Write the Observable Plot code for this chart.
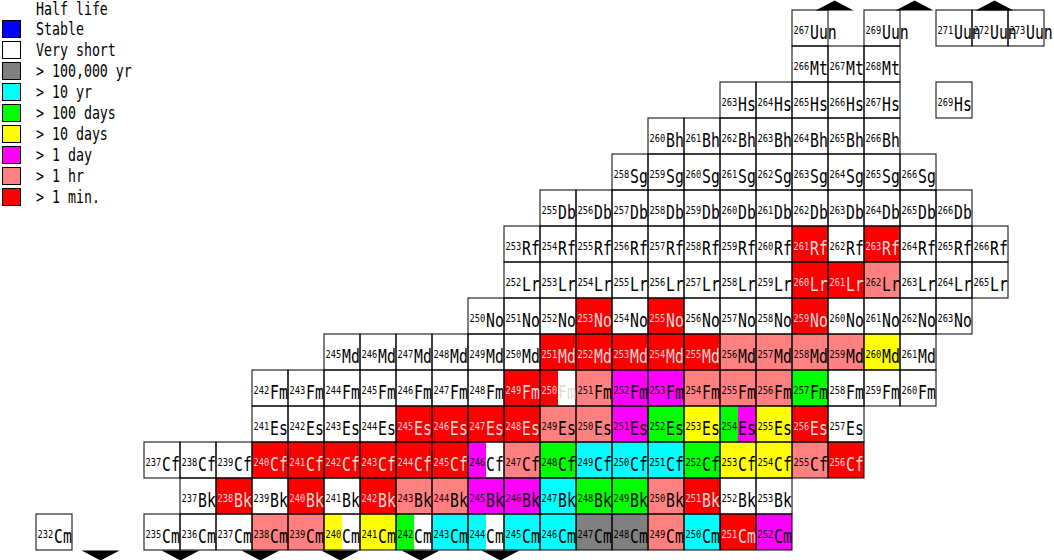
<!DOCTYPE html>
<html>
<head>
<meta charset="utf-8">
<script src="https://cdn.jsdelivr.net/npm/d3@7"></script>
<script src="https://cdn.jsdelivr.net/npm/@observablehq/plot@0.6"></script>
<style>
html, body { margin: 0; padding: 0; background: #fff; }
#wrap { position: relative; width: 1054px; height: 560px; overflow: hidden; }
#legend { position: absolute; left: 0; top: 0; font-family: "DejaVu Sans Mono", monospace; font-size: 17px; color: #000; }
#legend .sw { position: absolute; left: 2px; width: 19px; height: 18px; box-sizing: border-box; border: 1px solid #000; }
#legend .lt { position: absolute; left: 36px; line-height: 18px; height: 18px; white-space: pre; transform: scaleX(0.78); transform-origin: 0 0; }
</style>
</head>
<body>
<div id="wrap"><div id="chart"></div><div id="legend"></div></div>
<script>
// ---- Legend / half-life classes ----
const legendTitle = "Half life";
const classCodes  = ["B", "W", "G", "C", "L", "Y", "M", "S", "R"];
const classLabels = ["Stable", "Very short", "> 100,000 yr", "> 10 yr", "> 100 days", "> 10 days", "> 1 day", "> 1 hr", "> 1 min."];
const classColors = ["#0000ff", "#ffffff", "#808080", "#00ffff", "#00ff00", "#ffff00", "#ff00ff", "#ff8080", "#ff0000"];

// ---- Elements (rows) ----
const elementSymbols = ["Cm", "Bk", "Cf", "Es", "Fm", "Md", "No", "Lr", "Rf", "Db", "Sg", "Bh", "Hs", "Mt", "Uun"];
const protonNumbers  = [96, 97, 98, 99, 100, 101, 102, 103, 104, 105, 106, 107, 108, 109, 110];

// ---- Isotopes: [mass number, half-life class]  ("A/B" = split cell: isomer) ----
const curium = [[232,"W"],[235,"W"],[236,"W"],[237,"W"],[238,"S"],[239,"S"],[240,"Y/W"],[241,"Y"],[242,"L/W"],[243,"C"],[244,"C/W"],[245,"C"],[246,"C"],[247,"G"],[248,"G"],[249,"S"],[250,"C"],[251,"R"],[252,"M"]];
const berkelium = [[237,"W"],[238,"R"],[239,"W"],[240,"R"],[241,"W"],[242,"R"],[243,"S"],[244,"S"],[245,"M"],[246,"M"],[247,"C"],[248,"L"],[249,"L"],[250,"S"],[251,"R"],[252,"W"],[253,"W"]];
const californium = [[237,"W"],[238,"W"],[239,"W"],[240,"R"],[241,"R"],[242,"R"],[243,"R"],[244,"R"],[245,"R"],[246,"M/W"],[247,"S"],[248,"L"],[249,"C"],[250,"C"],[251,"C"],[252,"L"],[253,"Y"],[254,"Y"],[255,"S"],[256,"R"]];
const einsteinium = [[241,"W"],[242,"W"],[243,"W"],[244,"W"],[245,"R"],[246,"R"],[247,"R"],[248,"R"],[249,"S"],[250,"S"],[251,"M"],[252,"L"],[253,"Y"],[254,"L/M"],[255,"Y"],[256,"R"],[257,"W"]];
const fermium = [[242,"W"],[243,"W"],[244,"W"],[245,"W"],[246,"W"],[247,"W"],[248,"W"],[249,"R"],[250,"R/W"],[251,"S"],[252,"M"],[253,"M"],[254,"S"],[255,"S"],[256,"S"],[257,"L"],[258,"W"],[259,"W"],[260,"W"]];
const mendelevium = [[245,"W"],[246,"W"],[247,"W"],[248,"W"],[249,"W"],[250,"W"],[251,"R"],[252,"R"],[253,"R"],[254,"R"],[255,"R"],[256,"S"],[257,"S"],[258,"S"],[259,"S"],[260,"Y"],[261,"W"]];
const nobelium = [[250,"W"],[251,"W"],[252,"W"],[253,"R"],[254,"W"],[255,"R"],[256,"W"],[257,"W"],[258,"W"],[259,"R"],[260,"W"],[261,"W"],[262,"W"],[263,"W"]];
const lawrencium = [[252,"W"],[253,"W"],[254,"W"],[255,"W"],[256,"W"],[257,"W"],[258,"W"],[259,"W"],[260,"R"],[261,"R"],[262,"S"],[263,"W"],[264,"W"],[265,"W"]];
const rutherfordium = [[253,"W"],[254,"W"],[255,"W"],[256,"W"],[257,"W"],[258,"W"],[259,"W"],[260,"W"],[261,"R"],[262,"W"],[263,"R"],[264,"W"],[265,"W"],[266,"W"]];
const dubnium = [[255,"W"],[256,"W"],[257,"W"],[258,"W"],[259,"W"],[260,"W"],[261,"W"],[262,"W"],[263,"W"],[264,"W"],[265,"W"],[266,"W"]];
const seaborgium = [[258,"W"],[259,"W"],[260,"W"],[261,"W"],[262,"W"],[263,"W"],[264,"W"],[265,"W"],[266,"W"]];
const bohrium = [[260,"W"],[261,"W"],[262,"W"],[263,"W"],[264,"W"],[265,"W"],[266,"W"]];
const hassium = [[263,"W"],[264,"W"],[265,"W"],[266,"W"],[267,"W"],[269,"W"]];
const meitnerium = [[266,"W"],[267,"W"],[268,"W"]];
const ununnilium = [[267,"W"],[269,"W"],[271,"W"],[272,"W"],[273,"W"]];
const isotopeLists = [curium, berkelium, californium, einsteinium, fermium, mendelevium, nobelium, lawrencium, rutherfordium, dubnium, seaborgium, bohrium, hassium, meitnerium, ununnilium];

// ---- Scroll arrow markers (neutron-number position) ----
const arrowsBottom = [137.78, 140.0, 142.22, 144.44, 146.67, 148.89];
const arrowsTop = [158.17, 160.39, 162.61];

// ---- Build tables ----
const fills = [], outlines = [], labels = [];
elementSymbols.forEach((sym, i) => {
  const z = protonNumbers[i];
  isotopeLists[i].forEach(([a, cls]) => {
    const n = a - z;
    const parts = cls.split("/");
    parts.forEach((p, k) => fills.push({x1: n + k / parts.length, x2: n + (k + 1) / parts.length, z, cls: p}));
    outlines.push({n, z});
    labels.push({n, z, mass: String(a), symbol: sym, light: parts[0] === "R"});
  });
});

const downTri = {draw(ctx) { ctx.moveTo(-19, 0); ctx.lineTo(19, 0); ctx.lineTo(0, 10); ctx.closePath(); }};
const upTri = {draw(ctx) { ctx.moveTo(-19, 0); ctx.lineTo(19, 0); ctx.lineTo(0, -10); ctx.closePath(); }};

const FONT = "DejaVu Sans Mono";
const LIGHT = "#dcdcdc";
const MASS_SIZE = 10, SYMBOL_SIZE = 20;

const svg = Plot.plot({
  width: 1054,
  height: 560,
  margin: 0,
  style: {background: "white"},
  x: {domain: [135, 135 + 1054 / 36], axis: null},
  y: {domain: [96 - 10 / 36, 96 + 550 / 36], axis: null},
  color: {domain: classCodes, range: classColors},
  marks: [
    Plot.rect(fills, {x1: "x1", x2: "x2", y1: "z", y2: d => d.z + 1, fill: "cls"}),
    Plot.rect(outlines, {x1: "n", x2: d => d.n + 1, y1: "z", y2: d => d.z + 1, fill: "none", stroke: "black", strokeWidth: 1}),
    Plot.text(labels, {filter: d => !d.light, x: "n", y: d => d.z + 0.5, text: "mass", textAnchor: "start", dx: 1, dy: 2, fontSize: MASS_SIZE, fontFamily: FONT, fill: "black"}),
    Plot.text(labels, {filter: d => d.light, x: "n", y: d => d.z + 0.5, text: "mass", textAnchor: "start", dx: 1, dy: 2, fontSize: MASS_SIZE, fontFamily: FONT, fill: LIGHT}),
    Plot.text(labels, {filter: d => !d.light, x: "n", y: d => d.z + 0.5, text: "symbol", textAnchor: "start", dx: 17.5, dy: 3.6, fontSize: SYMBOL_SIZE, fontFamily: FONT, fill: "black"}),
    Plot.text(labels, {filter: d => d.light, x: "n", y: d => d.z + 0.5, text: "symbol", textAnchor: "start", dx: 17.5, dy: 3.6, fontSize: SYMBOL_SIZE, fontFamily: FONT, fill: LIGHT}),
    Plot.dot(arrowsBottom, {x: d => d, y: () => 96, symbol: downTri, fill: "black", stroke: "none"}),
    Plot.dot(arrowsTop, {x: d => d, y: () => 111, symbol: upTri, fill: "black", stroke: "none"})
  ]
});

// horizontally condense texts (narrow bitmap-like look)
function condense(t, s) {
  const tr = t.getAttribute("transform");
  if (tr) {
    t.setAttribute("transform", tr + ` scale(${s},1)`);
  } else {
    const x = +t.getAttribute("x") || 0;
    t.removeAttribute("x");
    t.setAttribute("transform", `translate(${x},0) scale(${s},1)`);
  }
}
svg.querySelectorAll("text").forEach(t => {
  let el = t, fs = null;
  while (el && el !== svg) {
    const a = el.getAttribute && el.getAttribute("font-size");
    if (a) { fs = parseFloat(a); break; }
    el = el.parentNode;
  }
  if (fs === SYMBOL_SIZE) condense(t, 0.74);
  else if (fs === MASS_SIZE) condense(t, 0.87);
});

document.getElementById("chart").appendChild(svg);

// ---- Legend ----
const legend = d3.select("#legend");
legend.append("div").attr("class", "lt").style("top", "0px").text(legendTitle);
classCodes.forEach((c, i) => {
  legend.append("div").attr("class", "sw").style("top", (20 + 21 * i) + "px").style("background", classColors[i]);
  legend.append("div").attr("class", "lt").style("top", (20 + 21 * i) + "px").text(classLabels[i]);
});
</script>
</body>
</html>
